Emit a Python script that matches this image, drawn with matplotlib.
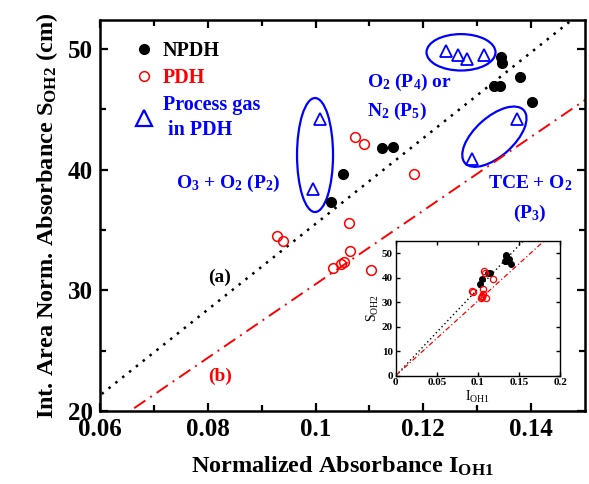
import numpy as np
import matplotlib
matplotlib.use("Agg")
import matplotlib.pyplot as plt
from matplotlib.patches import Ellipse
from matplotlib.lines import Line2D
from matplotlib.transforms import ScaledTranslation

plt.rcParams['font.family'] = ['Liberation Serif', 'DejaVu Serif']
plt.rcParams['mathtext.default'] = 'regular'

# data
npdh_x = [0.1028, 0.1051, 0.1123, 0.1144, 0.1345, 0.1347, 0.1379, 0.1332, 0.1342, 0.1401]
npdh_y = [37.3, 39.65, 41.76, 41.84, 49.3, 48.8, 47.65, 46.9, 46.9, 45.6]

pdh_x = [0.1073, 0.1089, 0.1183, 0.1062, 0.0929, 0.0939, 0.1064, 0.1053, 0.1048, 0.1032, 0.1102]
pdh_y = [42.67, 42.09, 39.63, 35.54, 34.48, 34.1, 33.24, 32.35, 32.2, 31.8, 31.66]

gas_x = [0.1008, 0.0996, 0.1242, 0.1264, 0.1282, 0.1313, 0.1374, 0.1291]
gas_y = [44.2, 38.36, 49.86, 49.45, 49.17, 49.5, 44.2, 40.85]

slope_a = 355.0   # fit (a), through origin
slope_b = 305.0   # fit (b), through origin

blue = '#0000ff'
red = '#ff0000'

fig = plt.figure(figsize=(5.89, 4.84), dpi=100)
ax = fig.add_axes([0.170, 0.151, 0.823, 0.808])

xl = np.array([0.0, 0.16])
ax.plot(xl, slope_a * xl, color='black', ls=(0, (1, 2.5)), lw=1.8)
ax.plot(xl, slope_b * xl, color=red, ls=(0, (7, 3, 1, 3)), lw=1.4)

ax.plot(npdh_x, npdh_y, 'o', color='black', ms=7, zorder=3)
ax.plot(pdh_x, pdh_y, 'o', mfc='none', mec=red, ms=7, mew=1.1, zorder=3)
ax.plot(gas_x, gas_y, '^', mfc='none', mec=blue, ms=8, mew=1.3, zorder=3)

ax.set_xlim(0.06, 0.15)
ax.set_ylim(20, 52.4)
ax.set_xticks([0.06, 0.08, 0.1, 0.12, 0.14])
ax.set_xticklabels(['0.06', '0.08', '0.1', '0.12', '0.14'])
ax.set_xticks(np.arange(0.07, 0.15, 0.02), minor=True)
ax.set_yticks([20, 30, 40, 50])
ax.set_yticks([25, 35, 45], minor=True)
ax.tick_params(which='both', direction='in', top=True, right=True, width=1.6)
ax.tick_params(which='major', length=6, labelsize=18, pad=5)
ax.tick_params(which='minor', length=4)
for lab in ax.get_xticklabels() + ax.get_yticklabels():
    lab.set_fontweight('bold')
for s in ax.spines.values():
    s.set_linewidth(1.8)

ax.set_xlabel('Normalized Absorbance I$_{OH1}$', fontsize=17.5, fontweight='bold', labelpad=10)
ax.set_ylabel('Int. Area Norm. Absorbance S$_{OH2}$ (cm)', fontsize=17.5, fontweight='bold', labelpad=6)

# legend
handles = [Line2D([], [], ls='none', marker='o', color='black', ms=7),
           Line2D([], [], ls='none', marker='o', mfc='none', mec=red, ms=7, mew=1.1),
           Line2D([], [], ls='none', marker='^', mfc='none', mec=blue, ms=11, mew=1.6)]
leg = ax.legend(handles, ['NPDH', 'PDH', 'Process gas\n in PDH'], loc='upper left',
                bbox_to_anchor=(0.04, 0.981), frameon=False, handlelength=1.0,
                handletextpad=0.45, labelspacing=0.33, borderpad=0.2,
                prop={'size': 14.5, 'weight': 'bold'})
for t, c in zip(leg.get_texts(), ['black', red, blue]):
    t.set_color(c)
    t.set_linespacing(1.35)

# ellipses around process gas groups (sizes in inches)
def ring(cx, cy, w, h, ang):
    tr = fig.dpi_scale_trans + ScaledTranslation(cx, cy, ax.transData)
    ax.add_patch(Ellipse((0, 0), w, h, angle=ang, fill=False, ec=blue, lw=1.6, transform=tr))

ring(0.0999, 41.2, 0.36, 1.14, 0)
ring(0.1270, 49.71, 0.69, 0.364, 0)
ring(0.1332, 42.72, 0.79, 0.39, 42)

tk = dict(fontsize=14, fontweight='bold', color=blue)
ax.text(0.0837, 38.88, 'O$_3$ + O$_2$ (P$_2$)', ha='center', va='center', **tk)
ax.text(0.1095, 47.2, 'O$_2$ (P$_4$) or', ha='left', va='center', **tk)
ax.text(0.1095, 44.8, 'N$_2$ (P$_5$)', ha='left', va='center', **tk)
ax.text(0.1398, 38.88, 'TCE + O$_2$', ha='center', va='center', **tk)
ax.text(0.1398, 36.4, '(P$_3$)', ha='center', va='center', **tk)
ax.text(0.0821, 31.08, '(a)', ha='center', va='center', fontsize=14, fontweight='bold', color='black')
ax.text(0.0823, 22.86, '(b)', ha='center', va='center', fontsize=14, fontweight='bold', color=red)

# inset
ins = fig.add_axes([0.672, 0.224, 0.279, 0.278])
xi = np.array([0.0, 0.2])
ins.plot(xi, slope_a * xi, color='black', ls=(0, (1, 2)), lw=1.0)
ins.plot(xi, slope_b * xi, color=red, ls=(0, (4, 2, 1, 2)), lw=0.9)
ins.plot(npdh_x, npdh_y, 'o', color='black', ms=4)
ins.plot(pdh_x, pdh_y, 'o', mfc='none', mec=red, ms=4.5, mew=0.9)
ins.set_xlim(0, 0.2)
ins.set_ylim(0, 55)
ins.set_xticks([0, 0.05, 0.1, 0.15, 0.2])
ins.set_xticklabels(['0', '0.05', '0.1', '0.15', '0.2'])
ins.set_yticks([0, 10, 20, 30, 40, 50])
ins.tick_params(direction='in', top=True, right=True, length=3, width=1, labelsize=8, pad=2)
for lab in ins.get_xticklabels() + ins.get_yticklabels():
    lab.set_fontweight('bold')
for s in ins.spines.values():
    s.set_linewidth(1.0)
ins.set_xlabel('I$_{OH1}$', fontsize=10, labelpad=1)
ins.set_ylabel('S$_{OH2}$', fontsize=10, labelpad=1)

fig.savefig('out.png', dpi=100)
